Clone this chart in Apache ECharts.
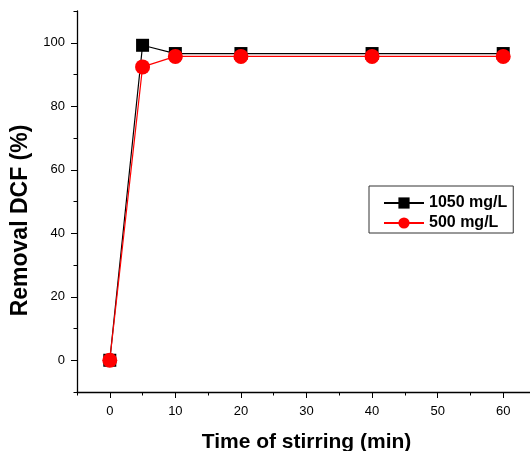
<!DOCTYPE html>
<html><head><meta charset="utf-8">
<script src="https://cdn.jsdelivr.net/npm/echarts@6/dist/echarts.min.js"></script>
<style>html,body{margin:0;padding:0;background:#fff}#c{width:530px;height:451px}</style>
</head><body><div id="c"></div>
<script>
const times = [0, 5, 10, 20, 40, 60];
const s1050 = [0, 99.2, 96.6, 96.6, 96.6, 96.6];
const s500 = [0, 92.4, 95.7, 95.7, 95.7, 95.7];
const seriesNames = ['1050 mg/L', '500 mg/L'];
const xTicks = [0, 10, 20, 30, 40, 50, 60];
const xMinorTicks = [-5, 5, 15, 25, 35, 45, 55, 65];
const yTicks = [0, 20, 40, 60, 80, 100];
const yMinorTicks = [-10, 10, 30, 50, 70, 90, 110];

const chart = echarts.init(document.getElementById('c'));
const font = '"Liberation Sans", Arial, sans-serif';
const pair = (xs, ys) => xs.map((x, i) => [x, ys[i]]);
const hidden = { show: false };
chart.setOption({
  animation: false,
  backgroundColor: '#fff',
  grid: { left: 77, top: 11, right: -6, bottom: 59, containLabel: false, outerBoundsMode: 'none' },
  xAxis: [{
    type: 'value', min: -5, max: 65, interval: 5,
    name: 'Time of stirring (min)', nameLocation: 'middle', nameGap: 40,
    nameTextStyle: { fontFamily: font, fontWeight: 'bold', fontSize: 21, color: '#000' },
    axisLine: { show: true, onZero: false, lineStyle: { color: '#000', width: 1.3 } },
    axisTick: { show: true, inside: false, length: 6, customValues: xTicks, lineStyle: { color: '#000' } },
    axisLabel: { fontFamily: font, fontSize: 13, color: '#000', margin: 13, customValues: xTicks },
    splitLine: { show: false }
  }, {
    type: 'value', min: -5, max: 65, interval: 5, position: 'bottom',
    axisLine: { show: false, onZero: false },
    axisTick: { show: true, inside: false, length: 3.5, customValues: xMinorTicks, lineStyle: { color: '#000' } },
    axisLabel: hidden, splitLine: hidden
  }],
  yAxis: [{
    type: 'value', min: -10, max: 110, interval: 10,
    name: 'Removal DCF (%)', nameLocation: 'middle', nameGap: 42,
    nameTextStyle: { fontFamily: font, fontWeight: 'bold', fontSize: 23, color: '#000',
      padding: [0, 38, 0, 0] },
    axisLine: { show: true, onZero: false, lineStyle: { color: '#000', width: 1.3 } },
    axisTick: { show: true, inside: false, length: 6, customValues: yTicks, lineStyle: { color: '#000' } },
    axisLabel: { fontFamily: font, fontSize: 13, color: '#000', margin: 12, customValues: yTicks },
    splitLine: { show: false }
  }, {
    type: 'value', min: -10, max: 110, interval: 10, position: 'left',
    axisLine: { show: false, onZero: false },
    axisTick: { show: true, inside: false, length: 3.5, customValues: yMinorTicks, lineStyle: { color: '#000' } },
    axisLabel: hidden, splitLine: hidden
  }],
  legend: {
    orient: 'vertical', left: 369, top: 186,
    padding: [9, 6, 2, 14], itemGap: 4, itemWidth: 40, itemHeight: 14,
    borderColor: '#333', borderWidth: 1,
    textStyle: { fontFamily: font, fontWeight: 'bold', fontSize: 16, color: '#000' },
    data: seriesNames
  },
  series: [
    { name: seriesNames[0], type: 'line', data: pair(times, s1050),
      symbol: 'rect', symbolSize: 13, color: '#000',
      lineStyle: { color: '#000', width: 1.2 }, itemStyle: { color: '#000' }, z: 2 },
    { name: seriesNames[1], type: 'line', data: pair(times, s500),
      symbol: 'circle', symbolSize: 15, color: '#ff0000',
      lineStyle: { color: '#ff0000', width: 1.2 }, itemStyle: { color: '#ff0000' }, z: 3 }
  ]
});
</script></body></html>
